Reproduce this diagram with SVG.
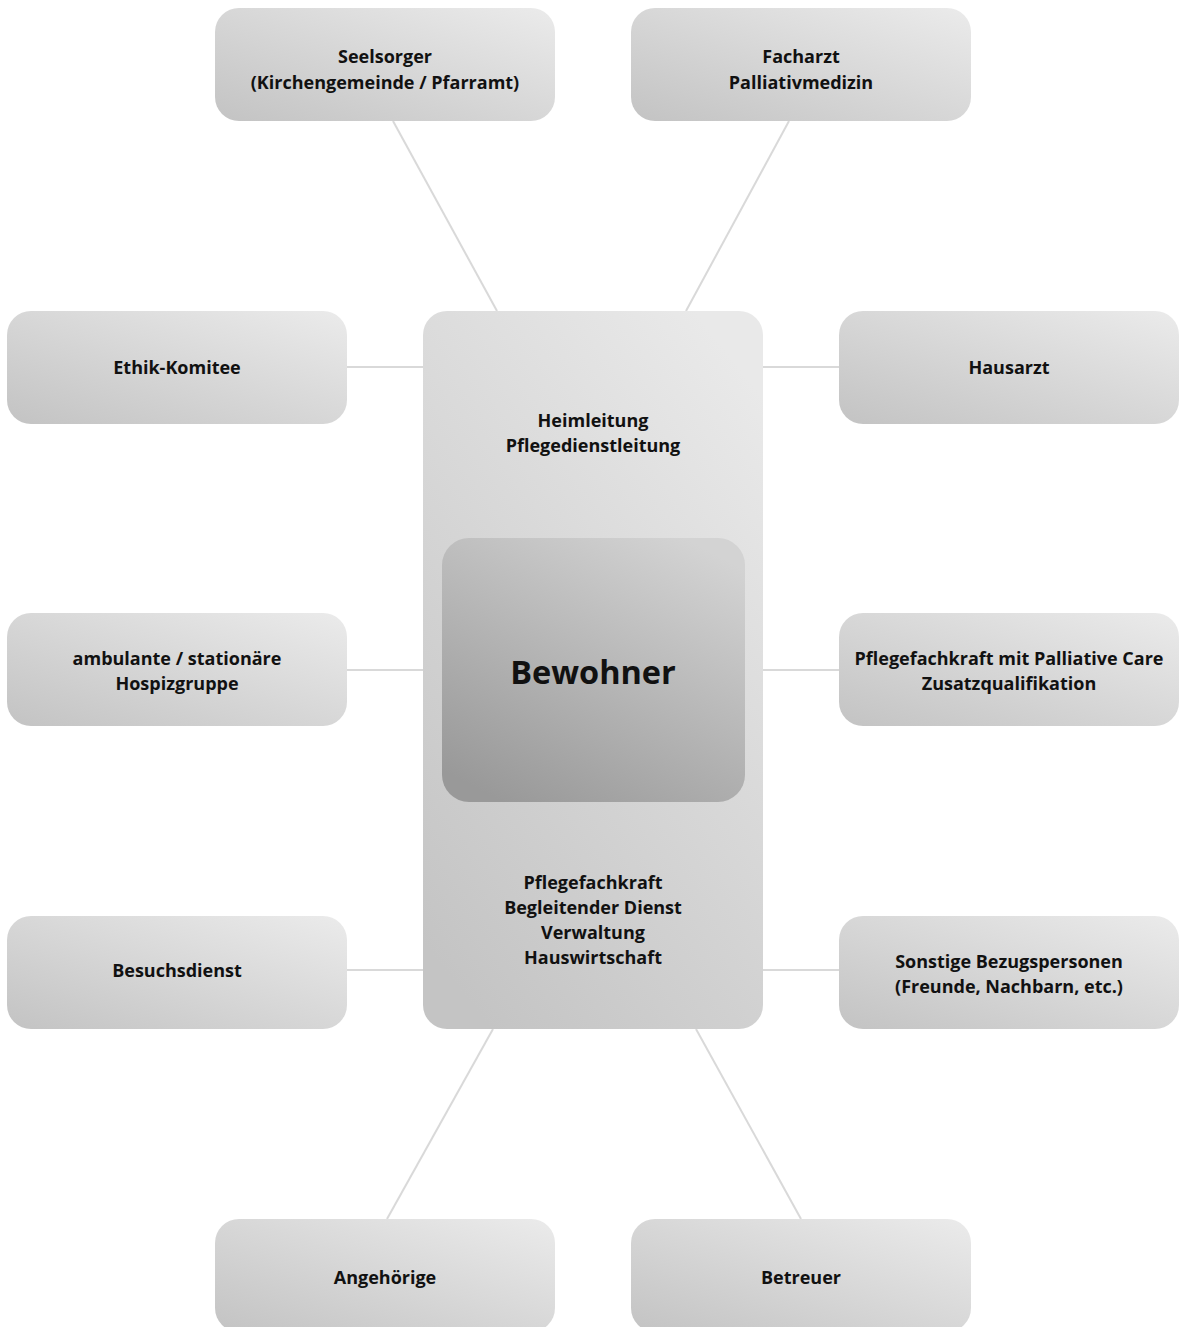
<svg xmlns="http://www.w3.org/2000/svg" width="1182" height="1327" viewBox="0 0 1182 1327">
<defs>
<linearGradient id="gNode" x1="0" y1="1" x2="1" y2="0">
<stop offset="0" stop-color="#c3c3c3"/>
<stop offset="1" stop-color="#ebebeb"/>
</linearGradient>
<linearGradient id="gBig" x1="0.2" y1="1" x2="0.8" y2="0">
<stop offset="0" stop-color="#c4c4c4"/>
<stop offset="1" stop-color="#e9e9e9"/>
</linearGradient>
<linearGradient id="gCenter" x1="0.2" y1="1" x2="0.8" y2="0">
<stop offset="0" stop-color="#999999"/>
<stop offset="1" stop-color="#d3d3d3"/>
</linearGradient>
<style>
.n{fill:url(#gNode)}
.t{font-family:"Open Sans","Liberation Sans",sans-serif;font-weight:700;font-size:18px;fill:#111;text-anchor:middle}
.c{stroke:#d9d9d9;stroke-width:2;fill:none}
</style>
</defs>
<rect width="1182" height="1327" fill="#ffffff"/>
<g id="connectors">
<line class="c" x1="393" y1="121" x2="497" y2="311"/>
<line class="c" x1="789" y1="121" x2="686" y2="311"/>
<line class="c" x1="347" y1="367" x2="423" y2="367"/>
<line class="c" x1="763" y1="367" x2="839" y2="367"/>
<line class="c" x1="347" y1="670" x2="423" y2="670"/>
<line class="c" x1="763" y1="670" x2="839" y2="670"/>
<line class="c" x1="347" y1="970" x2="423" y2="970"/>
<line class="c" x1="763" y1="970" x2="839" y2="970"/>
<line class="c" x1="493" y1="1029" x2="387" y2="1219"/>
<line class="c" x1="696" y1="1029" x2="801" y2="1219"/>
</g>
<g id="center-block">
<rect x="423" y="311" width="340" height="718" rx="24" fill="url(#gBig)"/>
<text class="t" x="593" y="427">Heimleitung</text>
<text class="t" x="593" y="452">Pflegedienstleitung</text>
<text class="t" x="593" y="889">Pflegefachkraft</text>
<text class="t" x="593" y="914">Begleitender Dienst</text>
<text class="t" x="593" y="939">Verwaltung</text>
<text class="t" x="593" y="964">Hauswirtschaft</text>
</g>
<g id="bewohner">
<rect x="442" y="538" width="303" height="264" rx="27" fill="url(#gCenter)"/>
<text class="t" x="593" y="684" style="font-size:32.5px">Bewohner</text>
</g>
<g id="seelsorger">
<rect class="n" x="215" y="8" width="340" height="113" rx="24"/>
<text class="t" x="385" y="63">Seelsorger</text>
<text class="t" x="385" y="89">(Kirchengemeinde / Pfarramt)</text>
</g>
<g id="facharzt">
<rect class="n" x="631" y="8" width="340" height="113" rx="24"/>
<text class="t" x="801" y="63">Facharzt</text>
<text class="t" x="801" y="89">Palliativmedizin</text>
</g>
<g id="ethik">
<rect class="n" x="7" y="311" width="340" height="113" rx="24"/>
<text class="t" x="177" y="374">Ethik-Komitee</text>
</g>
<g id="hausarzt">
<rect class="n" x="839" y="311" width="340" height="113" rx="24"/>
<text class="t" x="1009" y="374">Hausarzt</text>
</g>
<g id="hospiz">
<rect class="n" x="7" y="613" width="340" height="113" rx="24"/>
<text class="t" x="177" y="665">ambulante / stationäre</text>
<text class="t" x="177" y="690">Hospizgruppe</text>
</g>
<g id="palliativ">
<rect class="n" x="839" y="613" width="340" height="113" rx="24"/>
<text class="t" x="1009" y="665">Pflegefachkraft mit Palliative Care</text>
<text class="t" x="1009" y="690">Zusatzqualifikation</text>
</g>
<g id="besuchsdienst">
<rect class="n" x="7" y="916" width="340" height="113" rx="24"/>
<text class="t" x="177" y="977">Besuchsdienst</text>
</g>
<g id="sonstige">
<rect class="n" x="839" y="916" width="340" height="113" rx="24"/>
<text class="t" x="1009" y="968">Sonstige Bezugspersonen</text>
<text class="t" x="1009" y="993">(Freunde, Nachbarn, etc.)</text>
</g>
<g id="angehoerige">
<rect class="n" x="215" y="1219" width="340" height="113" rx="24"/>
<text class="t" x="385" y="1284">Angehörige</text>
</g>
<g id="betreuer">
<rect class="n" x="631" y="1219" width="340" height="113" rx="24"/>
<text class="t" x="801" y="1284">Betreuer</text>
</g>
</svg>
